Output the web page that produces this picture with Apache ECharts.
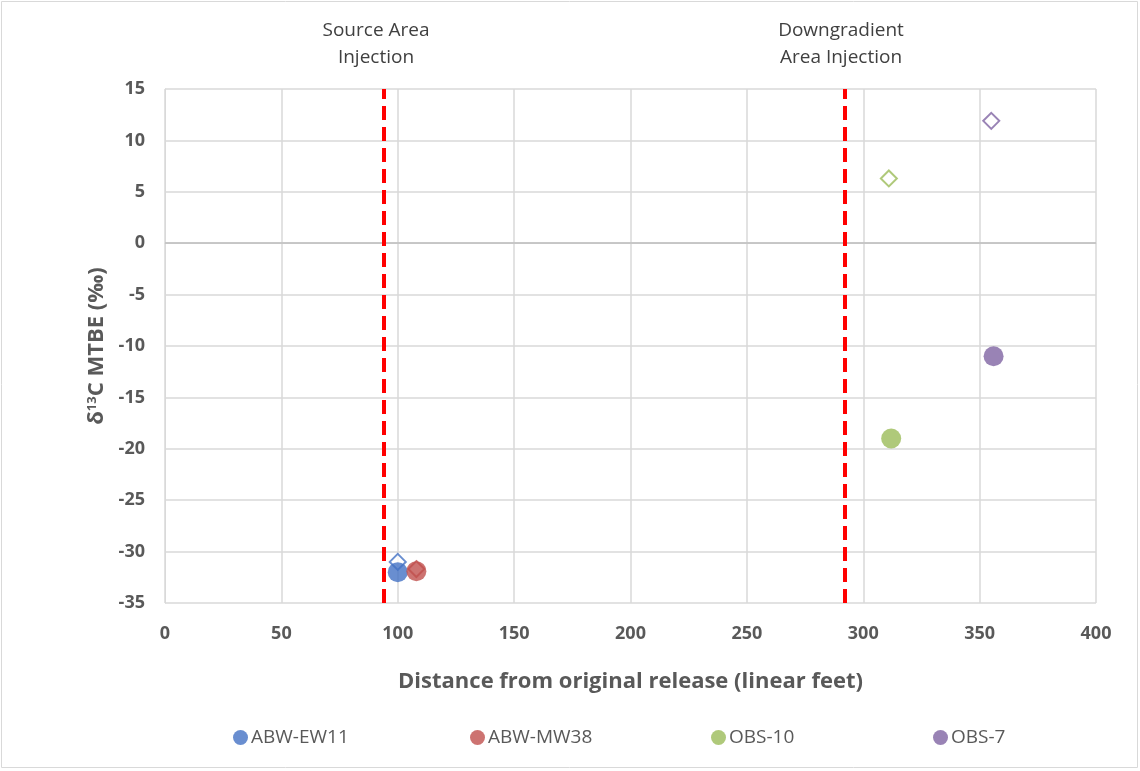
<!DOCTYPE html>
<html><head><meta charset="utf-8">
<script src="https://cdn.jsdelivr.net/npm/echarts@6/dist/echarts.min.js"></script>
<style>html,body{margin:0;padding:0;background:#fff}#c{width:1140px;height:771px}</style>
</head><body><div id="c"></div>
<script>
const seriesNames = ['ABW-EW11', 'ABW-MW38', 'OBS-10', 'OBS-7'];
const colors = ['#4472C4', '#C0504D', '#9BBB59', '#8064A2'];
// [distance, delta13C] — filled circles
const circlePts = [[100, -32], [108, -31.9], [312, -19], [356, -11]];
// [distance, delta13C] — open diamonds
const diamondPts = [[100, -31], [108, -31.7], [311, 6.3], [355, 11.9]];
const injectionLines = [94, 292];
const injectionLabels = ['Source Area\nInjection', 'Downgradient\nArea Injection'];
const xTicks = {min: 0, max: 400, interval: 50};
const yTicks = {min: -35, max: 15, interval: 5};

const font = '"Open Sans", Lato, sans-serif';
const gray = '#595959';
const chart = echarts.init(document.getElementById('c'));

const series = seriesNames.map((name, i) => ({
  name, type: 'scatter', z: 3,
  itemStyle: {color: colors[i]},
  symbolSize: 20,
  data: [
    {value: diamondPts[i], symbol: 'diamond', symbolSize: 16,
     itemStyle: {color: '#fff', borderColor: colors[i], borderWidth: 2}},
    {value: circlePts[i], symbol: 'circle', symbolSize: 20}
  ]
}));
series.push({
  type: 'scatter', name: 'guides', data: [], z: 2, silent: true,
  markLine: {
    symbol: 'none', silent: true, animation: false,
    label: {show: false},
    data: [
      {yAxis: 0, lineStyle: {color: '#bfbfbf', width: 1.5, type: 'solid'}},
      ...injectionLines.map(v => ({xAxis: v, lineStyle: {color: '#FF0000', width: 4, type: [14, 7]}}))
    ]
  }
});

const legendLeft = [233, 470, 711, 933];

chart.setOption({
  animation: false,
  textStyle: {fontFamily: font},
  grid: {left: 165, right: 44, top: 89, bottom: 168},
  graphic: [
    {type: 'rect', shape: {x: 1.5, y: 1.5, width: 1136, height: 766},
     style: {fill: 'none', stroke: '#d9d9d9', lineWidth: 1}},
    ...injectionLabels.map((t, i) => ({
      type: 'text', x: [376, 841][i], y: 17,
      style: {text: t, fill: '#404040', font: '19px ' + font, align: 'center', lineHeight: 27}
    }))
  ],
  xAxis: {
    type: 'value', ...xTicks,
    name: 'Distance from original release (linear feet)', nameLocation: 'middle', nameGap: 68,
    nameTextStyle: {color: gray, fontSize: 22, fontWeight: 'bold'},
    axisLine: {show: true, lineStyle: {color: '#d9d9d9'}},
    axisTick: {show: false},
    axisLabel: {color: gray, fontSize: 18, fontWeight: 'bold', margin: 22},
    splitLine: {lineStyle: {color: '#d9d9d9', width: 1.5}}
  },
  yAxis: {
    type: 'value', ...yTicks,
    name: '{a|δ}{s|13}{a|C MTBE (‰)}', nameLocation: 'middle', nameGap: 56, nameRotate: 90,
    nameTextStyle: {color: gray, fontSize: 22, fontWeight: 'bold',
      rich: {a: {fontSize: 22, fontWeight: 'bold', color: gray, fontFamily: font},
             s: {fontSize: 13, fontWeight: 'bold', color: gray, verticalAlign: 'top', fontFamily: font, padding: [0,0,9,0]}}},
    axisLine: {show: true, lineStyle: {color: '#d9d9d9'}},
    axisTick: {show: false},
    axisLabel: {color: gray, fontSize: 18, fontWeight: 'bold', margin: 20},
    splitLine: {lineStyle: {color: '#d9d9d9', width: 1.5}}
  },
  legend: seriesNames.map((n, i) => ({
    data: [n], top: 728, left: legendLeft[i], icon: 'circle',
    itemWidth: 15, itemHeight: 15, itemGap: 4, padding: 0,
    textStyle: {color: gray, fontSize: 19, padding: [0, 0, 0, -2]}
  })),
  series
});
</script></body></html>
